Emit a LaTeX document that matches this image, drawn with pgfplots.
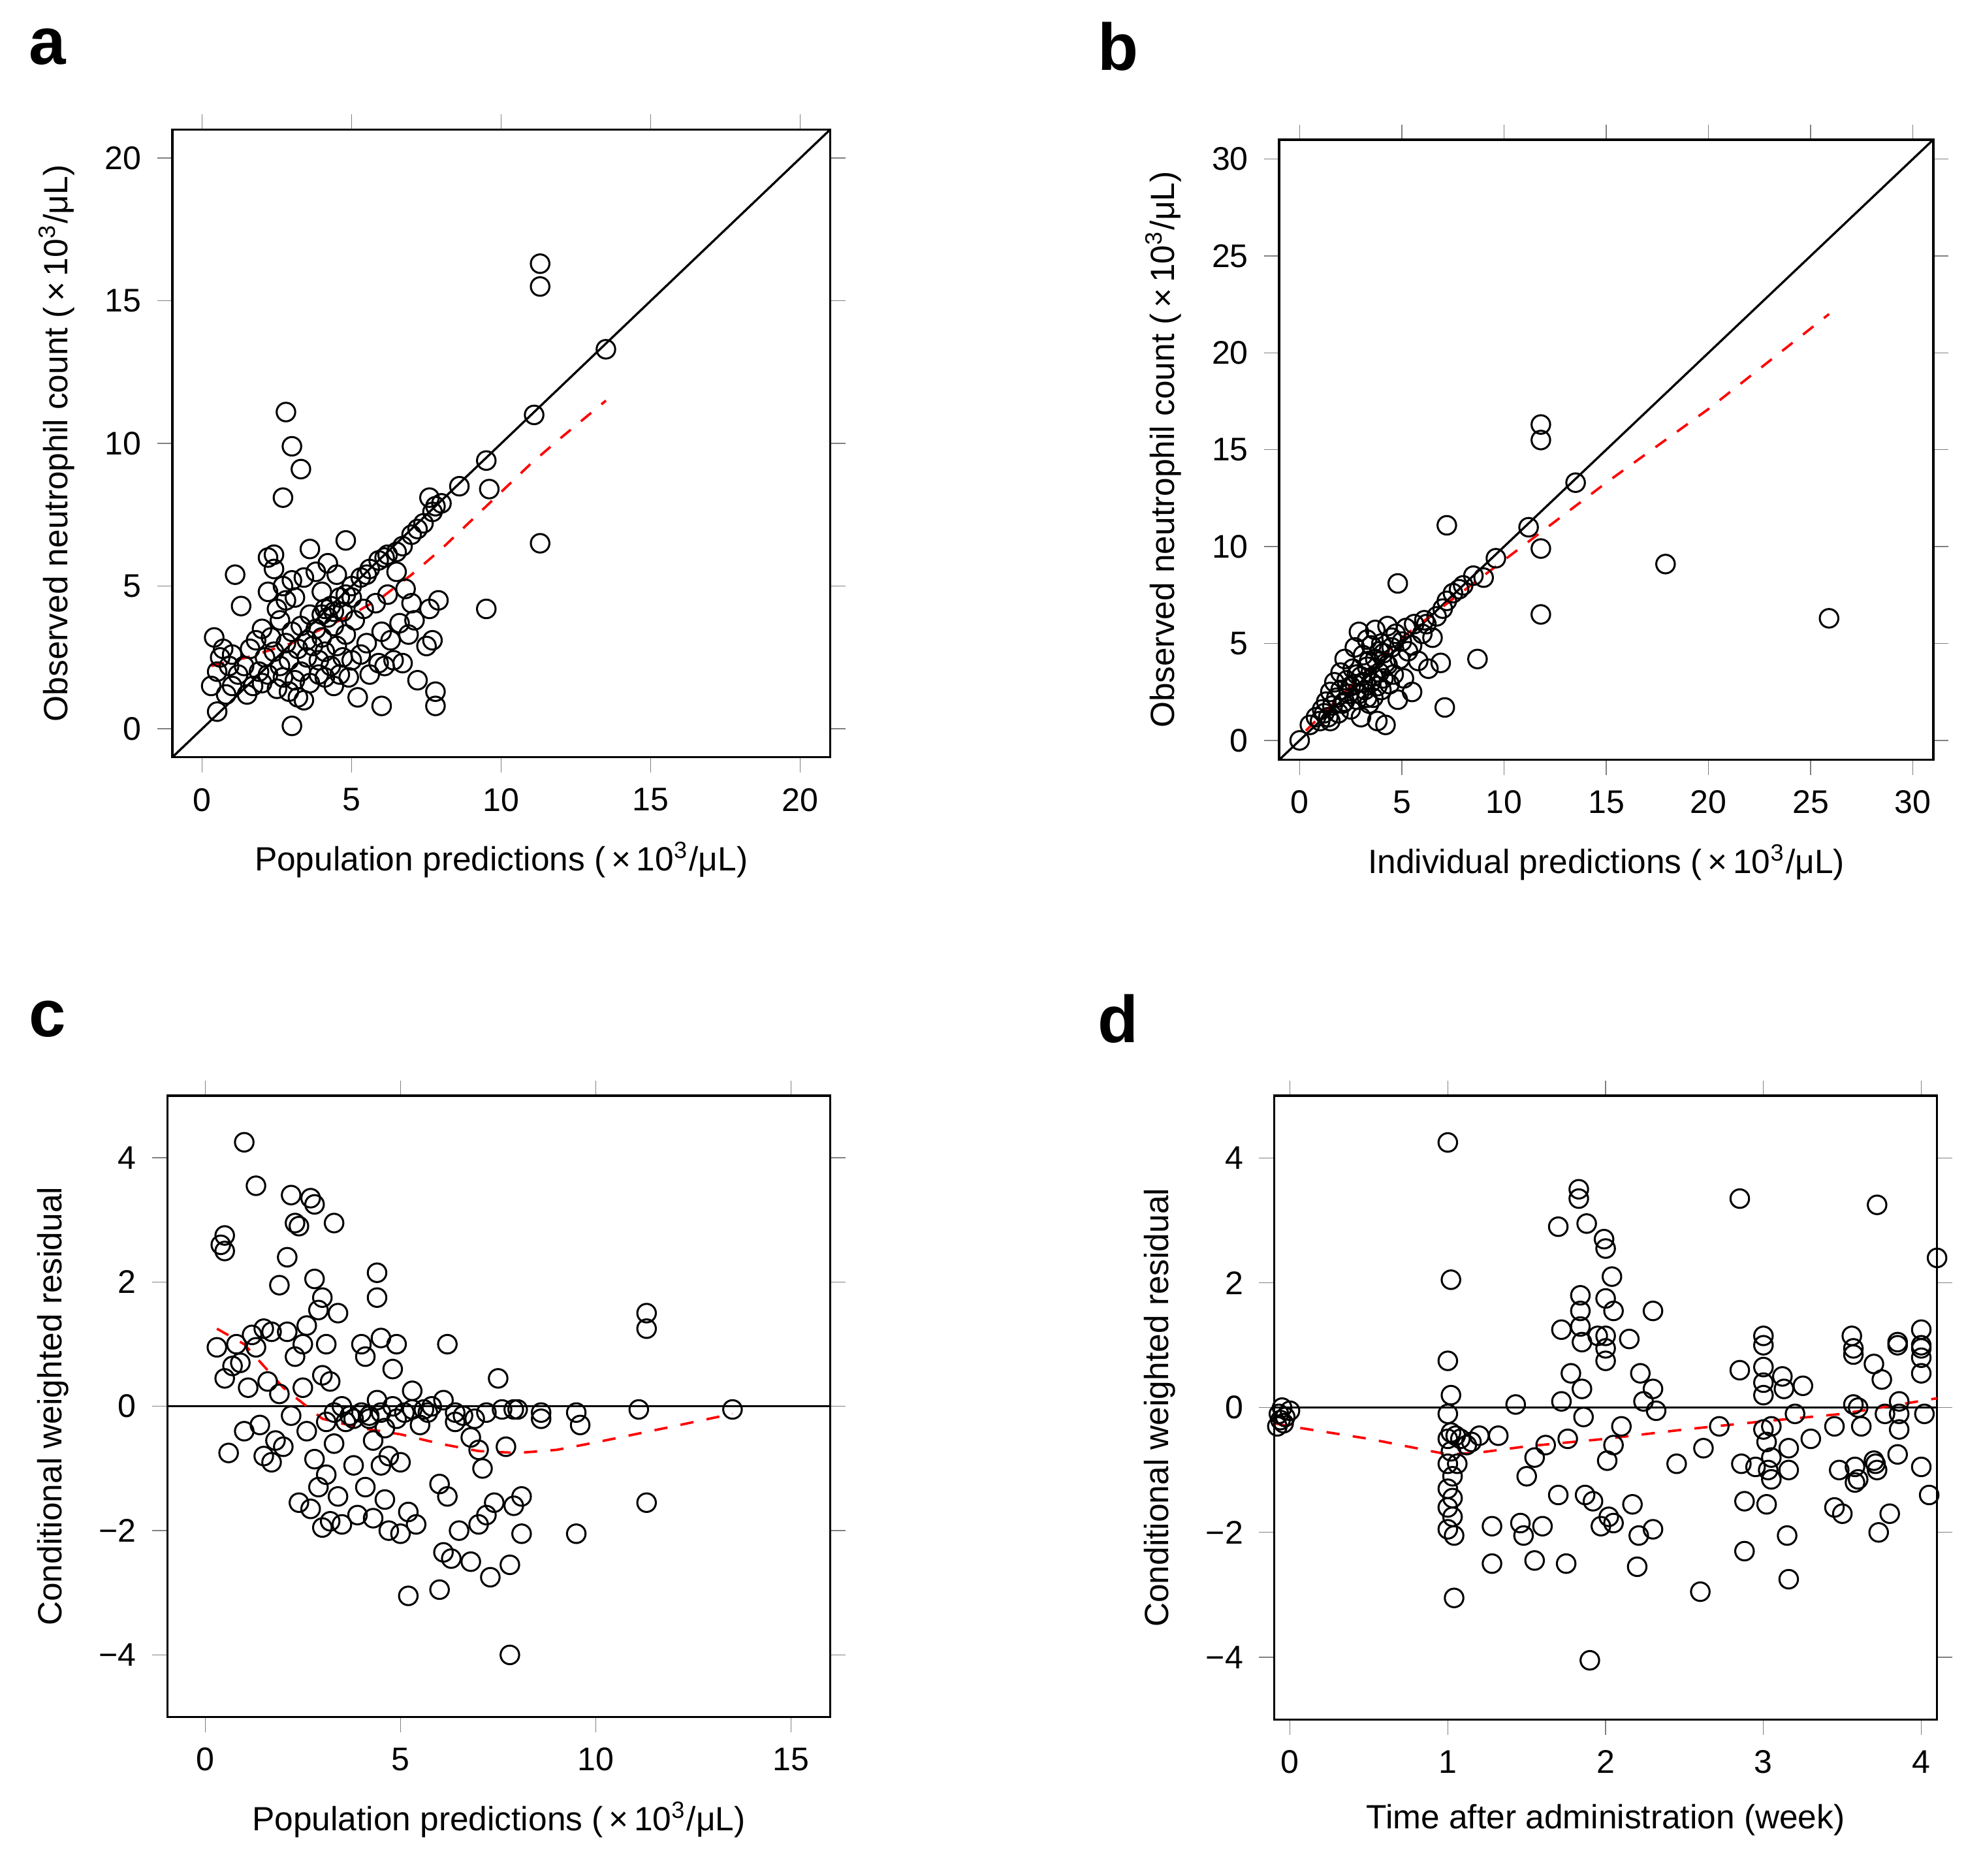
\documentclass[border=0pt]{standalone}
\usepackage{pgfplots}
\pgfplotsset{compat=1.18}
\usepackage{fontspec}
\setmainfont{Liberation Sans}
\newcommand{\unitx}{(\,×\,10\textsuperscript{3}/μL)}
\pgfplotsset{
 every axis/.append style={
  scale only axis, anchor=north west, line width=0.5pt,
  tick align=outside, tick pos=both, major tick length=1.2mm,
  xticklabel pos=bottom, yticklabel pos=left,
  /pgf/number format/assume math mode=true,
  tick label style={font=\fontsize{7.4}{8}\selectfont},
  label style={font=\fontsize{7.6}{9}\selectfont},
  clip=true,
 },
 pts/.style={only marks, mark=o, mark size=2.1pt, black, mark options={line width=0.45pt}},
 lo/.style={red, dashed, line width=0.55pt, no marks},
}
\begin{document}
\begin{tikzpicture}[x=1cm,y=1cm]
\path (0,0) rectangle (15.63,-14.91);
\node[font=\bfseries\fontsize{15}{15}\selectfont] at (0.38,-0.37) {a};
\node[font=\bfseries\fontsize{15}{15}\selectfont] at (8.89,-0.37) {b};
\node[font=\bfseries\fontsize{15}{15}\selectfont] at (0.38,-8.10) {c};
\node[font=\bfseries\fontsize{15}{15}\selectfont] at (8.89,-8.10) {d};
% a
\begin{axis}[at={(1.37cm,-1.03cm)}, width=5.23cm, height=4.99cm,
 xmin=-1,xmax=21,ymin=-1,ymax=21, xtick={0,5,...,20}, ytick={0,5,...,20},
 xlabel={Population predictions \unitx}, ylabel={Observed neutrophil count \unitx}]
\addplot[black,no marks] coordinates {(-1,-1)(21,21)};
\addplot[pts] coordinates {(11.3,16.3)(11.3,15.5)(13.5,13.3)(11.1,11)(9.5,9.4)(8.6,8.5)(9.6,8.4)(11.3,6.5)(9.5,4.2)(2.8,11.1)(3.0,9.9)(3.3,9.1)(2.7,8.1)(7.6,8.1)(7.8,7.8)(7.4,7.2)(7.9,4.5)(7.7,3.1)(7.8,1.3)(7.8,0.8)(6.0,0.8)(3.0,0.1)(0.5,0.6)(0.3,1.5)(0.4,3.2)(1.1,5.4)(2.2,6.0)(2.4,6.1)(3.6,6.3)(4.8,6.6)(6.7,6.4)
(4,4)(4.3,4.3)(4.6,4.6)(5,5)(5.3,5.3)(5.6,5.6)(5.9,5.9)(6.2,6.1)(6.5,6.2)(7,6.8)(4.1,4.2)(4.4,4.1)(4.8,4.7)(5.5,5.4)(6.1,6.0)(7.2,7.0)(7.7,7.6)(8.0,7.9)
(0.5,2.0)(0.6,2.5)(0.7,2.8)(0.8,1.2)(0.9,2.2)(1.0,1.5)(1.0,2.6)(1.2,1.9)(1.3,4.3)(1.4,2.2)(1.5,1.2)(1.6,2.8)(1.7,1.5)(1.8,3.1)(1.9,2.0)(2.0,3.5)(2.0,1.6)(2.1,2.5)(2.2,4.8)(2.2,1.9)(2.3,3.2)(2.4,5.6)(2.4,2.7)(2.5,4.2)(2.5,1.4)(2.6,3.8)(2.6,2.2)(2.7,5.0)(2.7,1.8)(2.8,4.5)(2.8,3.0)(2.9,1.3)(2.9,2.4)(3.0,5.2)(3.0,3.4)(3.1,1.7)(3.1,4.6)(3.2,2.8)(3.2,1.1)(3.3,3.6)(3.3,2.0)(3.4,5.3)(3.4,1.0)(3.5,3.1)(3.5,2.5)(3.6,4.0)(3.6,1.6)(3.7,2.9)(3.8,5.5)(3.8,3.5)(3.9,1.9)(3.9,2.4)(4.0,4.8)(4.0,3.2)(4.1,1.8)(4.1,2.7)(4.2,5.8)(4.2,3.9)(4.3,2.2)(4.4,1.5)(4.4,3.6)(4.5,5.4)(4.5,2.9)(4.6,1.9)(4.7,4.1)(4.7,2.5)(4.8,3.3)(4.9,1.8)(5.0,4.6)(5.0,2.4)(5.1,3.8)(5.2,1.1)(5.3,2.6)(5.4,4.2)(5.5,3.0)(5.6,1.9)(5.8,4.4)(5.9,2.3)(6.0,3.4)(6.1,2.2)(6.2,4.7)(6.3,3.1)(6.4,2.4)(6.5,5.5)(6.6,3.7)(6.7,2.3)(6.8,4.9)(6.9,3.3)(7.0,4.4)(7.1,3.8)(7.2,1.7)(7.5,2.9)(7.6,4.2)};
\addplot[lo] coordinates {(0.3,2.2)(1.5,2.5)(3,3)(4,3.5)(5,4)(6,4.6)(7,5.4)(8,6.3)(9,7.3)(10,8.3)(11,9.3)(12,10.2)(13.5,11.5)};
\end{axis}
% b
\begin{axis}[at={(10.17cm,-1.11cm)}, width=5.20cm, height=4.93cm,
 xmin=-1,xmax=31,ymin=-1,ymax=31, xtick={0,5,...,30}, ytick={0,5,...,30},
 xlabel={Individual predictions \unitx}, ylabel={Observed neutrophil count \unitx}]
\addplot[black,no marks] coordinates {(-1,-1)(31,31)};
\addplot[pts] coordinates {(17.9,9.1)(25.9,6.3)(11.8,9.9)(11.8,6.5)(11.8,16.3)(11.8,15.5)(13.5,13.3)(11.2,11)(7.2,11.1)(4.8,8.1)(8.7,4.2)(7.1,1.7)
(0,0)(0.5,0.8)(0.8,1.2)(1.0,1.0)(1.1,1.6)(1.3,2.0)(1.4,1.2)(1.5,2.5)(1.6,1.8)(1.7,3.0)(1.8,2.2)(1.9,1.4)(2.0,3.5)(2.0,2.6)(2.1,1.9)(2.2,4.2)(2.3,3.1)(2.4,2.4)(2.5,1.6)(2.6,3.7)(2.7,4.8)(2.7,2.9)(2.8,2.1)(2.9,5.6)(3.0,3.3)(3.0,1.2)(3.1,4.4)(3.2,2.6)(3.3,5.2)(3.3,3.8)(3.4,1.9)(3.5,4.9)(3.5,3.0)(3.6,2.2)(3.7,5.7)(3.7,4.2)(3.8,1.0)(3.9,3.5)(4.0,5.0)(4.0,2.6)(4.1,4.5)(4.2,0.8)(4.3,3.9)(4.3,5.9)(4.4,2.9)(4.5,4.8)(4.6,3.4)(4.7,5.5)(4.8,2.1)(4.9,4.2)(5.0,5.1)(5.1,3.2)(5.2,5.8)(5.3,4.6)(5.5,2.5)(5.6,6.0)(5.8,4.1)(6.0,5.5)(6.1,6.2)(6.3,3.7)(6.5,5.3)(6.7,6.4)(6.9,4.0)(7.0,6.8)(7.2,7.2)(7.5,7.6)(7.8,7.8)(8.0,8.0)(8.5,8.5)(9.0,8.4)(9.6,9.4)
(2.2,2.0)(2.5,2.8)(2.8,3.4)(3.1,3.0)(3.4,4.1)(3.6,3.3)(3.9,4.6)(4.2,4.0)(4.5,5.3)(1.2,1.4)(1.5,1.0)(2.9,2.4)(3.3,2.2)(3.8,2.8)(4.1,3.2)(5.5,4.9)(6.2,6.0)};
\addplot[lo] coordinates {(0.3,0.5)(2.5,2.8)(5,5.3)(7.5,7.3)(10,9.3)(15,13.3)(20,17.1)(25.9,22)};
\end{axis}
% c
\begin{axis}[at={(1.33cm,-8.71cm)}, width=5.27cm, height=4.94cm,
 xmin=-0.97,xmax=16,ymin=-5,ymax=5, xtick={0,5,10,15}, ytick={-4,-2,0,2,4},
 yticklabels={−4,−2,0,2,4},
 xlabel={Population predictions \unitx}, ylabel={Conditional weighted residual}]
\addplot[black,no marks] coordinates {(-1,0)(16,0)};
\addplot[pts] coordinates {(0.3,0.95)(0.4,2.6)(0.5,2.75)(0.5,2.5)(0.5,0.45)(0.6,-0.75)(0.7,0.65)(0.8,1.0)(0.9,0.7)(1.0,4.25)(1.0,-0.4)(1.1,0.3)(1.2,1.15)(1.3,3.55)(1.3,0.95)(1.4,-0.3)(1.5,1.25)(1.5,-0.8)(1.6,0.4)(1.7,1.2)(1.7,-0.9)(1.8,-0.55)(1.9,1.95)(1.9,0.2)(2.0,-0.65)(2.1,2.4)(2.1,1.2)(2.2,3.4)(2.2,-0.15)(2.3,2.95)(2.3,0.8)(2.4,2.9)(2.4,-1.55)(2.5,1.0)(2.5,0.3)(2.6,-0.4)(2.6,1.3)(2.7,3.35)(2.7,-1.65)(2.8,3.25)(2.8,2.05)(2.8,-0.85)(2.9,1.55)(2.9,-1.3)(3.0,0.5)(3.0,-1.95)(3.0,1.75)(3.1,-0.25)(3.1,1.0)(3.1,-1.1)(3.2,-1.85)(3.2,0.4)(3.3,2.95)(3.3,-0.6)(3.4,-1.45)(3.4,1.5)(3.5,0.0)(3.5,-1.9)(3.6,-0.25)(3.7,-0.15)(3.8,-0.95)(3.9,-1.75)(4.0,1.0)(4.0,-0.1)(4.1,0.8)(4.1,-1.3)(4.2,-0.2)(4.3,-0.55)(4.3,-1.8)(4.4,2.15)(4.4,1.75)(4.4,0.1)(4.5,-0.95)(4.5,1.1)(4.6,-1.5)(4.6,-0.35)(4.7,-2.0)(4.7,-0.8)(4.8,0.6)(4.8,0.0)(4.9,1.0)(5.0,-0.9)(5.0,-2.05)(5.1,-0.1)(5.2,-1.7)(5.2,-3.05)(5.3,0.25)(5.4,-1.9)(5.5,-0.3)(5.6,-0.05)(5.8,0.0)(6.0,-1.25)(6.0,-2.95)(6.1,-2.35)(6.1,0.1)(6.2,1.0)(6.2,-1.45)(6.3,-2.45)(6.4,-0.25)(6.5,-2.0)(6.6,-0.15)(6.8,-2.5)(6.8,-0.5)(7.0,-1.9)(7.0,-0.7)(7.1,-1.0)(7.2,-1.75)(7.3,-2.75)(7.4,-1.55)(7.5,0.45)(7.7,-0.65)(7.8,-4.0)(7.8,-2.55)(7.9,-1.6)(8.0,-0.05)(8.1,-2.05)(8.1,-1.45)(8.6,-0.1)(8.6,-0.2)(9.5,-2.05)(9.5,-0.1)(9.6,-0.3)(11.1,-0.05)(11.3,1.5)(11.3,1.25)(11.3,-1.55)(13.5,-0.05)
(4.2,-0.15)(4.5,-0.1)(4.9,-0.2)(5.3,-0.05)(5.7,-0.1)(6.4,-0.1)(6.9,-0.2)(7.2,-0.1)(7.6,-0.05)(7.9,-0.05)(3.8,-0.2)(3.3,-0.1)};
\addplot[lo] coordinates {(0.3,1.25)(1,1.0)(2,0.3)(3,-0.2)(4,-0.35)(5,-0.45)(6,-0.6)(7,-0.72)(8,-0.75)(9,-0.7)(10,-0.58)(11,-0.45)(12,-0.32)(13.5,-0.12)};
\end{axis}
% d
\begin{axis}[at={(10.13cm,-8.71cm)}, width=5.27cm, height=4.96cm,
 xmin=-0.1,xmax=4.1,ymin=-5,ymax=5, xtick={0,1,2,3,4}, ytick={-4,-2,0,2,4},
 yticklabels={−4,−2,0,2,4},
 xlabel={Time after administration (week)}, ylabel={Conditional weighted residual}]
\addplot[black,no marks] coordinates {(-0.2,0)(4.2,0)};
\addplot[pts] coordinates {(-0.08,-0.3)(-0.07,-0.1)(-0.06,-0.2)(-0.05,0.0)(-0.04,-0.25)(-0.03,-0.15)(0.0,-0.05)
(1.0,4.25)(1.0,0.75)(1.0,-0.1)(1.0,-0.5)(1.0,-0.9)(1.0,-1.3)(1.0,-1.6)(1.0,-1.95)(1.02,2.05)(1.02,0.2)(1.02,-0.4)(1.02,-0.7)(1.03,-1.1)(1.03,-1.45)(1.03,-1.75)(1.04,-2.05)(1.04,-3.05)(1.05,-0.45)(1.06,-0.9)(1.08,-0.5)(1.12,-0.6)(1.15,-0.55)(1.2,-0.45)(1.28,-1.9)(1.28,-2.5)(1.32,-0.45)(1.43,0.05)(1.46,-1.85)(1.48,-2.05)(1.5,-1.1)(1.55,-2.45)(1.55,-0.8)(1.6,-1.9)(1.62,-0.6)(1.7,2.9)(1.7,-1.4)(1.72,1.25)(1.72,0.1)(1.75,-2.5)(1.76,-0.5)(1.78,0.55)(1.83,3.5)(1.83,3.35)(1.84,1.8)(1.84,1.55)(1.84,1.3)(1.85,1.05)(1.85,0.3)(1.86,-0.15)(1.87,-1.4)(1.88,2.95)(1.9,-4.05)(1.92,-1.5)(1.95,1.15)(1.97,-1.9)(1.99,2.7)(2.0,2.55)(2.0,1.75)(2.0,1.15)(2.0,0.95)(2.0,0.75)(2.01,-0.85)(2.02,-1.75)(2.04,2.1)(2.05,1.55)(2.05,-0.6)(2.05,-1.85)(2.1,-0.3)(2.15,1.1)(2.17,-1.55)(2.2,-2.55)(2.21,-2.05)(2.22,0.55)(2.24,0.1)(2.3,1.55)(2.3,0.3)(2.3,-1.95)(2.32,-0.05)(2.45,-0.9)(2.6,-2.95)(2.62,-0.65)(2.72,-0.3)(2.85,3.35)(2.85,0.6)(2.86,-0.9)(2.88,-1.5)(2.88,-2.3)(2.95,-0.95)(3.0,1.15)(3.0,1.0)(3.0,0.65)(3.0,0.4)(3.0,0.2)(3.0,-0.35)(3.02,-0.55)(3.02,-1.55)(3.03,-1.0)(3.05,-1.15)(3.05,-0.3)(3.05,-0.8)(3.12,0.5)(3.13,0.3)(3.15,-2.05)(3.16,-2.75)(3.16,-1.0)(3.16,-0.65)(3.2,-0.1)(3.25,0.35)(3.3,-0.5)(3.45,-0.3)(3.45,-1.6)(3.48,-1.0)(3.5,-1.7)(3.56,1.15)(3.57,0.95)(3.57,0.85)(3.57,0.05)(3.58,-0.95)(3.58,-1.2)(3.6,-1.15)(3.6,0.0)(3.62,-0.3)(3.7,0.7)(3.7,-0.85)(3.71,-0.9)(3.72,3.25)(3.72,-1.0)(3.73,-2.0)(3.75,0.45)(3.77,-0.1)(3.8,-1.7)(3.85,1.05)(3.85,1.0)(3.85,-0.75)(3.86,-0.35)(3.86,-0.1)(3.86,0.1)(4.0,1.25)(4.0,1.0)(4.0,0.95)(4.0,0.8)(4.0,0.55)(4.0,-0.95)(4.02,-0.1)(4.05,-1.4)(4.1,2.4)};
\addplot[lo] coordinates {(-0.1,-0.25)(0,-0.3)(0.5,-0.5)(1,-0.75)(1.2,-0.72)(1.5,-0.62)(2,-0.5)(2.5,-0.35)(3,-0.22)(3.5,-0.1)(4.1,0.15)};
\end{axis}
\end{tikzpicture}
\end{document}
